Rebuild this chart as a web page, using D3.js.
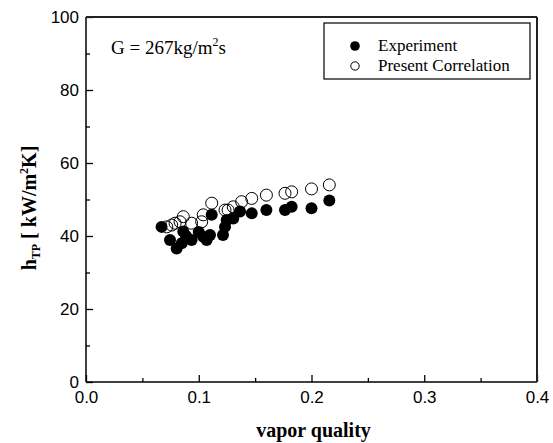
<!DOCTYPE html>
<html>
<head>
<meta charset="utf-8">
<script src="https://cdn.jsdelivr.net/npm/d3@7"></script>
<style>
  html, body { margin: 0; padding: 0; background: #fff; }
  svg { display: block; }
</style>
</head>
<body>
<script>
// Two-phase heat transfer coefficient vs vapor quality
const expQuality = [0.067, 0.0745, 0.0804, 0.0849, 0.0863, 0.0887, 0.0937, 0.100, 0.104, 0.107, 0.110, 0.1115,
  0.1215, 0.1233, 0.1248, 0.1306, 0.1366, 0.147, 0.160, 0.1765, 0.1824, 0.200, 0.2158];
const expH = [42.5, 38.9, 36.6, 38.0, 41.2, 40.0, 38.9, 41.1, 39.8, 38.9, 40.3, 45.8,
  40.3, 42.5, 44.4, 44.8, 46.7, 46.2, 47.1, 47.1, 48.0, 47.6, 49.7];

const corrQuality = [0.0716, 0.076, 0.079, 0.0834, 0.0863, 0.0937, 0.1026, 0.104, 0.1115,
  0.1233, 0.126, 0.1306, 0.138, 0.147, 0.160, 0.1765, 0.1824, 0.200, 0.2158];
const corrH = [42.5, 43.0, 43.5, 43.9, 45.3, 43.5, 43.9, 45.8, 49.0,
  47.1, 47.1, 48.0, 49.4, 50.3, 51.2, 51.7, 52.1, 52.9, 54.0];

const xTicks = [0.0, 0.1, 0.2, 0.3, 0.4];
const xMinor = [0.05, 0.15, 0.25, 0.35];
const yTicks = [0, 20, 40, 60, 80, 100];
const yMinor = [10, 30, 50, 70, 90];
const legendLabels = ["Experiment", "Present Correlation"];

const W = 553, H = 443;
const plotL = 86, plotR = 537, plotT = 17, plotB = 382;

const svg = d3.select("body").append("svg").attr("width", W).attr("height", H);

const x = d3.scaleLinear().domain([0, 0.4]).range([plotL, plotR]);
const y = d3.scaleLinear().domain([0, 100]).range([plotB, plotT]);

const sans = "'Liberation Sans', Arial, sans-serif";
const serif = "'Liberation Serif', 'Times New Roman', serif";

// x axis (ticks point inward)
svg.append("g").attr("transform", `translate(0,${plotB})`)
  .call(d3.axisBottom(x).tickValues(xTicks).tickSize(-7).tickPadding(9).tickFormat(d3.format(".1f")));
svg.append("g").attr("transform", `translate(0,${plotB})`)
  .call(d3.axisBottom(x).tickValues(xMinor).tickSize(-4).tickFormat(""));

// y axis
svg.append("g").attr("transform", `translate(${plotL},0)`)
  .call(d3.axisLeft(y).tickValues(yTicks).tickSize(-7).tickPadding(7).tickFormat(d3.format("d")));
svg.append("g").attr("transform", `translate(${plotL},0)`)
  .call(d3.axisLeft(y).tickValues(yMinor).tickSize(-4).tickFormat(""));

svg.selectAll(".domain").remove();
svg.selectAll(".tick line").attr("stroke", "#000").attr("stroke-width", 1.3);
svg.selectAll(".tick text").attr("font-family", sans).attr("font-size", 17).attr("fill", "#000");

// frame
svg.append("line").attr("x1", plotL).attr("x2", plotL).attr("y1", plotT).attr("y2", plotB)
  .attr("stroke", "#000").attr("stroke-width", 1.5);
svg.append("line").attr("x1", plotL).attr("x2", plotR).attr("y1", plotB).attr("y2", plotB)
  .attr("stroke", "#000").attr("stroke-width", 1.5);
svg.append("line").attr("x1", plotL).attr("x2", plotR).attr("y1", plotT).attr("y2", plotT)
  .attr("stroke", "#222").attr("stroke-width", 2);
svg.append("line").attr("x1", plotR).attr("x2", plotR).attr("y1", plotT).attr("y2", plotB)
  .attr("stroke", "#222").attr("stroke-width", 2);

// data points
const r = 6;
svg.append("g").selectAll("circle").data(expQuality).join("circle")
  .attr("cx", d => x(d)).attr("cy", (d, i) => y(expH[i])).attr("r", r).attr("fill", "#000");
svg.append("g").selectAll("circle").data(corrQuality).join("circle")
  .attr("cx", d => x(d)).attr("cy", (d, i) => y(corrH[i])).attr("r", r)
  .attr("fill", "none").attr("stroke", "#000").attr("stroke-width", 1);

// annotation
const g = svg.append("text").attr("x", 111).attr("y", 54)
  .attr("font-family", serif).attr("font-size", 19).attr("fill", "#000");
g.append("tspan").text("G = 267kg/m");
g.append("tspan").attr("font-size", 12).attr("dy", -8).text("2");
g.append("tspan").attr("dy", 8).text("s");

// legend
const lg = svg.append("g");
lg.append("rect").attr("x", 324).attr("y", 23).attr("width", 206).attr("height", 56)
  .attr("fill", "#fff").attr("stroke", "#000").attr("stroke-width", 1.2);
lg.append("circle").attr("cx", 355).attr("cy", 46).attr("r", 4.8).attr("fill", "#000");
lg.append("circle").attr("cx", 355).attr("cy", 66).attr("r", 4.2).attr("fill", "none")
  .attr("stroke", "#000").attr("stroke-width", 1);
lg.selectAll("text").data(legendLabels).join("text")
  .attr("x", 378).attr("y", (d, i) => 51 + i * 20)
  .attr("font-family", serif).attr("font-size", 17).attr("fill", "#000").text(d => d);

// axis titles
svg.append("text").attr("x", (plotL + plotR) / 2 + 2).attr("y", 437).attr("text-anchor", "middle")
  .attr("font-family", serif).attr("font-weight", "bold").attr("font-size", 20).text("vapor quality");

const yt = svg.append("text").attr("transform", `translate(36,208) rotate(-90)`)
  .attr("text-anchor", "middle").attr("font-family", serif).attr("font-weight", "bold").attr("font-size", 20);
yt.append("tspan").text("h");
yt.append("tspan").attr("font-size", 12).attr("dy", 4).text("TP");
yt.append("tspan").attr("dy", -4).text(" [ kW/m");
yt.append("tspan").attr("font-size", 12).attr("dy", -8).text("2");
yt.append("tspan").attr("dy", 8).text("K]");
</script>
</body>
</html>
